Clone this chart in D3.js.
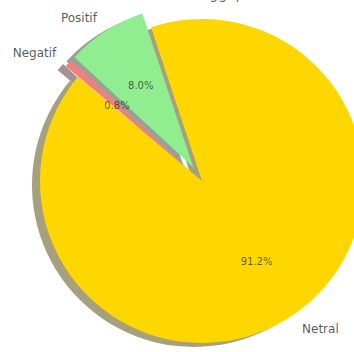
<!DOCTYPE html>
<html>
<head>
<meta charset="utf-8">
<script src="https://cdn.jsdelivr.net/npm/d3@7"></script>
<style>
  html, body { margin: 0; padding: 0; background: #ffffff; }
  svg { display: block; }
  text { font-family: "DejaVu Sans", sans-serif; }
</style>
</head>
<body>
<svg id="chart" width="354" height="352"></svg>
<script>
// ---- data ----
const categories = ["Netral", "Positif", "Negatif"];
const values = [91.2, 8.0, 0.8];
const pctLabels = ["91.2%", "8.0%", "0.8%"];
const colors = ["#FFD700", "#90EE90", "#F08080"];
const explode = [0, 0.1, 0.1];
const titleText = "Distribusi Sentimen Tanggapan Publik";

// ---- layout ----
const W = 354, H = 352;
const cx = 202, cy = 181, R = 162;
const startDeg = 140; // matplotlib startangle, counter-clockwise
const shadowDx = -8, shadowDy = 4;

const svg = d3.select("#chart");

// title (mostly cropped above the view, as in the reference)
svg.append("text")
  .attr("x", 176).attr("y", -1)
  .attr("text-anchor", "middle")
  .attr("font-size", 14)
  .attr("fill", "#000").attr("fill-opacity", 0.6)
  .text(titleText);

const a0 = Math.PI / 2 - startDeg * Math.PI / 180;
const pie = d3.pie().sort(null).value(d => d)
  .startAngle(a0).endAngle(a0 - 2 * Math.PI);
const arcs = pie(values);

const arcGen = d3.arc().innerRadius(0).outerRadius(R);

function offsetOf(d, i, k) {
  const mid = (d.startAngle + d.endAngle) / 2;
  return [Math.sin(mid) * k * R, -Math.cos(mid) * k * R];
}

function shade(c) {
  const rgb = d3.rgb(c);
  return d3.rgb(rgb.r * 0.3, rgb.g * 0.3, rgb.b * 0.3).toString();
}

const g = svg.append("g").attr("transform", `translate(${cx},${cy})`);

// shadows first (below all wedges)
g.selectAll("path.shadow").data(arcs).enter().append("path")
  .attr("class", "shadow")
  .attr("d", arcGen)
  .attr("transform", (d, i) => {
    const [ox, oy] = offsetOf(d, i, explode[i]);
    return `translate(${ox + shadowDx},${oy + shadowDy})`;
  })
  .attr("fill", (d, i) => shade(colors[i]))
  .attr("fill-opacity", 0.5);

// wedges
g.selectAll("path.wedge").data(arcs).enter().append("path")
  .attr("class", "wedge")
  .attr("d", arcGen)
  .attr("transform", (d, i) => {
    const [ox, oy] = offsetOf(d, i, explode[i]);
    return `translate(${ox},${oy})`;
  })
  .attr("fill", (d, i) => colors[i]);

// category labels at 1.1 R
g.selectAll("text.lab").data(arcs).enter().append("text")
  .attr("class", "lab")
  .each(function(d, i) {
    const [ox, oy] = offsetOf(d, i, explode[i]);
    const mid = (d.startAngle + d.endAngle) / 2;
    const x = ox + Math.sin(mid) * 1.1 * R;
    const y = oy - Math.cos(mid) * 1.1 * R;
    d3.select(this)
      .attr("x", x).attr("y", y)
      .attr("dy", "0.35em")
      .attr("text-anchor", x > 0 ? "start" : "end")
      .attr("font-size", 12)
      .attr("fill", "#000").attr("fill-opacity", 0.68)
      .text(categories[i]);
  });

// percentage labels at 0.6 R
g.selectAll("text.pct").data(arcs).enter().append("text")
  .attr("class", "pct")
  .each(function(d, i) {
    const [ox, oy] = offsetOf(d, i, explode[i]);
    const mid = (d.startAngle + d.endAngle) / 2;
    const x = ox + Math.sin(mid) * 0.6 * R;
    const y = oy - Math.cos(mid) * 0.6 * R;
    d3.select(this)
      .attr("x", x).attr("y", y)
      .attr("dy", "0.35em")
      .attr("text-anchor", "middle")
      .attr("font-size", 10)
      .attr("fill", "#000").attr("fill-opacity", 0.62)
      .text(pctLabels[i]);
  });
</script>
</body>
</html>
